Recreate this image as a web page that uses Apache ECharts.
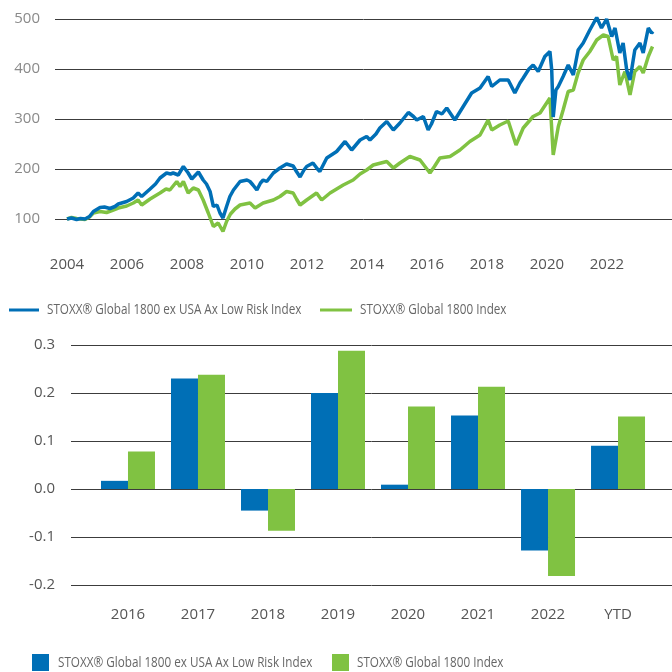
<!DOCTYPE html>
<html><head><meta charset="utf-8">
<script src="https://cdn.jsdelivr.net/npm/echarts@6/dist/echarts.min.js"></script>
<style>html,body{margin:0;padding:0;background:#fff}#c{width:672px;height:672px}</style>
</head><body><div id="c"></div>
<script>
const lowRiskName = 'STOXX® Global 1800 ex USA Ax Low Risk Index';
const globalName = 'STOXX® Global 1800 Index';

// Line chart (index levels), time in decimal years
const lowRiskYears = [2004.0,2004.15,2004.32,2004.45,2004.6,2004.75,2004.88,2005.1,2005.25,2005.43,2005.6,2005.71,2005.99,2006.21,2006.37,2006.49,2006.77,2006.95,2007.1,2007.32,2007.45,2007.54,2007.71,2007.88,2008.04,2008.16,2008.38,2008.54,2008.65,2008.77,2008.88,2009.0,2009.1,2009.2,2009.32,2009.43,2009.55,2009.77,2010.0,2010.1,2010.2,2010.33,2010.45,2010.54,2010.66,2010.88,2011.1,2011.32,2011.54,2011.65,2011.77,2011.9,2011.99,2012.2,2012.35,2012.43,2012.66,2012.99,2013.27,2013.4,2013.49,2013.77,2013.99,2014.1,2014.3,2014.43,2014.66,2014.88,2015.1,2015.38,2015.55,2015.66,2015.88,2016.04,2016.15,2016.32,2016.5,2016.66,2016.93,2017.21,2017.49,2017.77,2018.04,2018.16,2018.43,2018.71,2018.93,2019.1,2019.21,2019.4,2019.54,2019.71,2019.93,2020.1,2020.16,2020.21,2020.3,2020.38,2020.54,2020.71,2020.88,2021.04,2021.21,2021.43,2021.66,2021.82,2021.99,2022.16,2022.27,2022.43,2022.54,2022.66,2022.77,2022.93,2023.1,2023.21,2023.38,2023.49,2023.54];
const lowRiskValues = [100,102,99,101,100,105,115,123,124,121,125,130,135,142,152,145,160,170,182,192,190,192,188,205,192,180,194,178,170,155,125,128,112,102,125,145,158,175,178,175,168,158,172,178,175,192,202,210,206,195,184,198,205,212,200,195,222,235,255,245,238,258,265,258,270,282,295,278,292,313,305,298,305,278,290,315,310,322,298,325,352,362,385,365,378,378,352,372,382,400,408,395,425,435,398,304,358,365,385,408,388,438,452,478,503,482,500,465,482,432,452,398,378,438,452,432,482,472,475];

const globalYears = [2004.0,2004.15,2004.32,2004.6,2004.75,2004.88,2005.1,2005.32,2005.5,2005.71,2005.99,2006.21,2006.37,2006.49,2006.77,2007.1,2007.3,2007.43,2007.66,2007.77,2007.88,2008.04,2008.21,2008.38,2008.54,2008.71,2008.88,2009.04,2009.2,2009.32,2009.45,2009.6,2009.77,2010.1,2010.27,2010.54,2010.88,2011.1,2011.32,2011.54,2011.65,2011.77,2011.99,2012.32,2012.49,2012.77,2013.21,2013.54,2013.77,2013.99,2014.21,2014.66,2014.88,2015.1,2015.43,2015.77,2016.1,2016.25,2016.43,2016.77,2017.1,2017.43,2017.77,2018.04,2018.16,2018.43,2018.71,2018.97,2019.21,2019.54,2019.77,2020.1,2020.21,2020.38,2020.54,2020.71,2020.88,2021.04,2021.21,2021.43,2021.66,2021.88,2022.04,2022.21,2022.32,2022.43,2022.6,2022.77,2022.93,2023.1,2023.21,2023.38,2023.52];
const globalValues = [100,103,101,99,104,112,115,113,117,122,126,132,138,128,140,152,160,158,175,165,175,152,162,158,138,112,85,92,75,95,110,120,128,132,122,132,138,145,155,152,140,128,138,152,138,152,168,178,190,198,208,215,202,212,225,218,192,205,222,225,238,255,268,298,278,288,296,248,282,305,312,342,228,285,318,355,358,392,418,435,458,468,465,418,425,368,395,348,395,405,392,425,445];

const lineYearLabels = [2004,2006,2008,2010,2012,2014,2016,2018,2020,2022];

// Bar chart (annual returns)
const barCategories = ['2016','2017','2018','2019','2020','2021','2022','YTD'];
const lowRiskReturns = [0.017, 0.230, -0.045, 0.200, 0.009, 0.153, -0.128, 0.090];
const globalReturns  = [0.078, 0.238, -0.087, 0.288, 0.172, 0.213, -0.181, 0.151];

const BLUE = '#006fb6', GREEN = '#80c242';
const FONT = 'Open Sans';
const gridLine = {lineStyle:{color:'#3c3c3c', width:1}};

// Legend entries (narrowed text as in the original)
function legendEntry(iconX, iconY, iconW, iconH, textX, textY, color, name) {
  return [
    {type:'rect', shape:{x:iconX, y:iconY, width:iconW, height:iconH}, style:{fill:color}, silent:true},
    {type:'text', x:textX, y:textY, scaleX:0.78, silent:true,
     style:{text:name, fill:'#666', font:'15px "Open Sans"', verticalAlign:'middle', align:'left'}}
  ];
}

const chart = echarts.init(document.getElementById('c'), null, {renderer:'canvas'});
chart.setOption({
  animation: false,
  textStyle: {fontFamily: FONT},
  grid: [
    {left:55, right:0, top:19, height:200},
    {left:71, right:0, top:345, height:240}
  ],
  xAxis: [
    {gridIndex:0, type:'value', min:2003.6, max:2024.17,
     axisLine:{show:false}, axisTick:{show:false}, splitLine:{show:false},
     axisLabel:{customValues: lineYearLabels, formatter: v => String(v), margin:38, color:'#555', fontSize:15, fontFamily:FONT}},
    {gridIndex:1, type:'value', min:-0.814, max:7.771,
     axisLine:{show:false}, axisTick:{show:false}, splitLine:{show:false},
     axisLabel:{customValues: barCategories.map((c,i)=>i), formatter: v => barCategories[Math.round(v)], margin:22, color:'#555', fontSize:15, fontFamily:FONT}}
  ],
  yAxis: [
    {gridIndex:0, type:'value', min:100, max:500, interval:100,
     axisLine:{show:false}, axisTick:{show:false}, splitLine:gridLine,
     axisLabel:{color:'#8a8a8a', fontSize:15, margin:15, fontFamily:FONT}},
    {gridIndex:1, type:'value', min:-0.2, max:0.3, interval:0.1,
     axisLine:{show:false}, axisTick:{show:false}, splitLine:gridLine,
     axisLabel:{color:'#555', fontSize:15, margin:16, fontFamily:FONT,
       formatter: v => (Math.abs(v) < 1e-9 ? 0 : v).toFixed(1)}}
  ],
  graphic: [].concat(
    legendEntry(9, 308.5, 30, 3, 47, 310, BLUE, lowRiskName),
    legendEntry(320, 308.5, 32, 3, 360, 310, GREEN, globalName),
    legendEntry(32, 654, 17, 17, 58, 662.5, BLUE, lowRiskName),
    legendEntry(332, 654, 17, 17, 357, 662.5, GREEN, globalName)
  ),
  series: [
    {type:'line', name:globalName, xAxisIndex:0, yAxisIndex:0, showSymbol:false, clip:false,
     data: globalYears.map((y,i)=>[y, globalValues[i]]),
     lineStyle:{color:GREEN, width:3.5}, itemStyle:{color:GREEN}},
    {type:'line', name:lowRiskName, xAxisIndex:0, yAxisIndex:0, showSymbol:false, clip:false,
     data: lowRiskYears.map((y,i)=>[y, lowRiskValues[i]]),
     lineStyle:{color:BLUE, width:3.5}, itemStyle:{color:BLUE}},
    {type:'bar', name:lowRiskName, xAxisIndex:1, yAxisIndex:1, barWidth:27, barGap:'0%',
     data: lowRiskReturns.map((v,i)=>[i, v]), itemStyle:{color:BLUE}},
    {type:'bar', name:globalName, xAxisIndex:1, yAxisIndex:1, barWidth:27, barGap:'0%',
     data: globalReturns.map((v,i)=>[i, v]), itemStyle:{color:GREEN}}
  ]
});
</script>
</body></html>
